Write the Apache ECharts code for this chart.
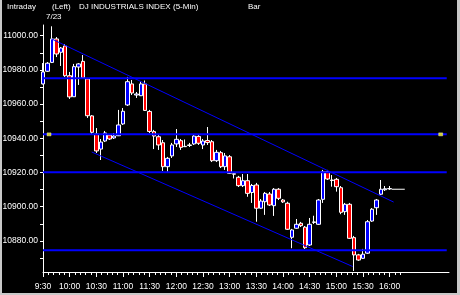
<!DOCTYPE html>
<html><head><meta charset="utf-8">
<script src="https://cdn.jsdelivr.net/npm/echarts@6/dist/echarts.min.js"></script>
<style>html,body{margin:0;padding:0;background:#000;}#c{width:460px;height:295px;}</style>
</head><body><div id="c"></div>
<script>
// ---- data ----
const barTimes = ['9:30','9:35','9:40','9:45','9:50','9:55','10:00','10:05','10:10','10:15','10:20','10:25',
'10:30','10:35','10:40','10:45','10:50','10:55','11:00','11:05','11:10','11:15','11:20','11:25',
'11:30','11:35','11:40','11:45','11:50','11:55','12:00','12:05','12:10','12:15','12:20','12:25',
'12:30','12:35','12:40','12:45','12:50','12:55','13:00','13:05','13:10','13:15','13:20','13:25',
'13:30','13:35','13:40','13:45','13:50','13:55','14:00','14:05','14:10','14:15','14:20','14:25',
'14:30','14:35','14:40','14:45','14:50','14:55','15:00','15:05','15:10','15:15','15:20','15:25',
'15:30','15:35','15:40','15:45','15:50','15:55','16:00'];
const openP = [10971.8,10979.2,10984.4,10998.1,10990.3,10994.0,10976.6,10964.3,10981.7,10985.0,10974.7,10953.1,
10942.5,10933.7,10938.4,10941.9,10940.2,10941.5,10948.4,10959.5,10971.8,10965.3,10964.9,10971.8,
10955.7,10943.9,10940.9,10937.4,10923.4,10929.7,10936.7,10938.6,10935.1,10935.8,10936.7,10941.1,
10936.1,10938.7,10938.0,10926.9,10931.6,10923.4,10929.2,10919.3,10917.2,10912.3,10915.2,10908.3,
10912.7,10899.1,10902.9,10907.4,10900.6,10910.2,10903.9,10902.0,10882.1,10887.4,10890.3,10888.0,
10877.6,10890.8,10889.7,10904.3,10920.5,10915.6,10916.0,10911.1,10897.1,10901.4,10881.9,10871.8,
10869.8,10872.8,10891.6,10899.4,10907.3,10909.9,10910.4];
const closeP = [10978.8,10983.9,10998.1,10989.3,10992.8,10976.6,10964.2,10981.9,10983.5,10975.3,10953.2,10943.5,
10932.6,10937.8,10943.1,10939.6,10941.3,10947.8,10955.8,10973.1,10966.5,10965.9,10971.8,10956.3,
10944.0,10941.3,10936.1,10923.4,10928.3,10936.1,10939.4,10934.7,10935.3,10936.1,10941.3,10937.1,
10938.4,10937.5,10926.9,10931.8,10923.4,10929.7,10919.5,10919.0,10912.3,10915.2,10907.8,10912.4,
10899.1,10903.3,10907.8,10901.0,10910.2,10904.9,10902.8,10886.8,10886.4,10889.7,10888.9,10876.0,
10889.7,10891.1,10903.9,10920.5,10916.2,10915.3,10911.7,10896.7,10901.4,10881.5,10871.8,10868.8,
10872.2,10891.2,10898.5,10903.9,10910.2,10910.5,10910.6];
const highP = [10984.0,10984.6,11005.5,10999.2,10993.4,10995.1,10978.8,10983.5,10984.0,10988.7,10975.3,10953.6,
10946.0,10939.6,10944.3,10942.5,10943.1,10956.6,10957.7,10975.9,10974.1,10967.1,10973.2,10973.8,
10956.6,10944.9,10941.9,10939.0,10929.1,10937.3,10945.4,10939.6,10939.3,10937.3,10941.9,10941.9,
10939.6,10946.6,10939.0,10933.2,10932.6,10931.4,10930.2,10920.3,10918.0,10919.1,10919.1,10913.3,
10913.9,10904.5,10908.6,10908.6,10910.9,10910.9,10904.5,10902.9,10887.0,10892.8,10891.1,10888.7,
10893.4,10894.7,10904.5,10921.5,10921.5,10918.5,10916.8,10912.1,10902.2,10902.2,10882.9,10872.4,
10875.3,10892.2,10899.2,10904.5,10915.6,10912.1,10912.1];
const lowP = [10971.5,10978.8,10984.0,10987.5,10982.3,10975.9,10963.0,10964.2,10971.2,10974.7,10951.9,10942.5,
10931.4,10927.3,10937.8,10939.0,10939.6,10941.3,10947.8,10958.9,10965.3,10963.6,10964.7,10956.0,
10943.1,10933.7,10933.2,10920.9,10920.5,10928.5,10934.9,10933.2,10934.9,10934.9,10936.1,10936.1,
10933.7,10936.1,10926.1,10926.1,10922.6,10921.5,10919.1,10916.5,10911.5,10911.5,10905.8,10902.2,
10891.2,10898.7,10895.2,10900.4,10894.6,10903.9,10902.2,10886.4,10875.7,10887.0,10888.1,10875.3,
10877.0,10889.9,10889.3,10902.2,10915.6,10911.7,10908.8,10895.6,10895.2,10881.1,10862.4,10868.3,
10869.4,10872.4,10891.1,10895.2,10906.8,10909.2,10909.8];
const levelPrices = [10975.1, 10942.3, 10920.1, 10874.5];
const upperChannel = [['9:39.8', 10998.1], ['16:04.5', 10902.7]];
const lowerChannel = [['10:24.8', 10932.0], ['15:18.4', 10865.0]];
const markerPoints = [['9:36.8', 10942.3], ['16:57.4', 10942.3]];
const lastPrice = [['16:02.3', 10910.2], ['16:17.0', 10910.2]];
const xTickLabels = ['9:30','10:00','10:30','11:00','11:30','12:00','12:30','13:00','13:30','14:00','14:30','15:00','15:30','16:00'];
const xMinorTicks = ['9:36','9:42','9:48','9:54','10:06','10:12','10:18','10:24','10:36','10:42','10:48','10:54',
'11:06','11:12','11:18','11:24','11:36','11:42','11:48','11:54','12:06','12:12','12:18','12:24',
'12:36','12:42','12:48','12:54','13:06','13:12','13:18','13:24','13:36','13:42','13:48','13:54',
'14:06','14:12','14:18','14:24','14:36','14:42','14:48','14:54','15:06','15:12','15:18','15:24',
'15:36','15:42','15:48','15:54','16:06','16:12'];
const yLabelValues = [10880, 10900, 10920, 10940, 10960, 10980, 11000];
const yTickValues = [10870,10880,10890,10900,10910,10920,10930,10940,10950,10960,10970,10980,10990,11000];
const headerTexts = ['Intraday', '(Left)', 'DJ INDUSTRIALS INDEX', '(5-Min)', 'Bar', '7/23'];

// ---- helpers ----
function toMin(t) { const [h, m] = t.split(':'); return (+h) * 60 + parseFloat(m) - 570; }
function fmtMin(v) { const t = Math.round(v) + 570; const h = Math.floor(t / 60), m = t % 60; return h + ':' + (m < 10 ? '0' : '') + m; }

const candleData = barTimes.map((t, i) => [toMin(t), openP[i], closeP[i], lowP[i], highP[i]]);
const X_MAX = 456.75, Y_MIN = 10861.8, Y_MAX = 11006.26;
const FONT = '"Liberation Sans", Arial, sans-serif';

const series = [{
  type: 'candlestick', data: candleData, encode: { x: 0, y: [1, 2, 3, 4] },
  barWidth: 4, z: 2,
  itemStyle: { color: '#0000ff', color0: '#ff0000', borderColor: '#ffffff', borderColor0: '#ffffff', borderColorDoji: '#ffffff', borderWidth: 1 }
}];
levelPrices.forEach(p => series.push({
  type: 'line', data: [[0, p], [454.2, p]], symbol: 'none', silent: true, z: 3,
  lineStyle: { color: '#0000ff', width: 2 }
}));
[upperChannel, lowerChannel].forEach(ch => series.push({
  type: 'line', data: ch.map(d => [toMin(d[0]), d[1]]), symbol: 'none', silent: true, z: 3,
  lineStyle: { color: '#0000ff', width: 1 }
}));
series.push({
  type: 'line', data: lastPrice.map(d => [toMin(d[0]), d[1]]), symbol: 'none', silent: true, z: 4,
  lineStyle: { color: '#ffffff', width: 1 }
});
series.push({
  type: 'scatter', data: markerPoints.map(d => [toMin(d[0]), d[1]]), symbol: 'rect', symbolSize: [4, 3], z: 5,
  itemStyle: { color: '#ffff00', borderColor: '#ffffdd', borderWidth: 0.5 }
});

const hdrPos = [[7, 6.5], [52, 6.5], [79, 6.5], [173, 6.5], [248, 6.5], [46, 16.5]];
const graphic = headerTexts.map((t, i) => ({
  type: 'text', x: hdrPos[i][0], y: hdrPos[i][1],
  style: { text: t, fill: '#ffffff', font: '8px ' + FONT, verticalAlign: 'middle', align: 'left' }
}));
graphic.push({ type: 'rect', shape: { x: 0, y: 0, width: 2, height: 295 }, style: { fill: '#c8c8c8' } });
graphic.push({ type: 'rect', shape: { x: 457, y: 0, width: 3, height: 295 }, style: { fill: '#c8c8c8' } });
graphic.push({ type: 'rect', shape: { x: 0, y: 293, width: 460, height: 2 }, style: { fill: '#c8c8c8' } });

const chart = echarts.init(document.getElementById('c'), null, { renderer: 'canvas' });
chart.setOption({
  animation: false,
  backgroundColor: '#000000',
  grid: { left: 43, right: 11, top: 25, bottom: 23, containLabel: false, outerBoundsMode: 'none' },
  xAxis: [{
    type: 'value', min: 0, max: X_MAX, position: 'bottom',
    axisLine: { show: true, onZero: false, lineStyle: { color: '#ffffff', width: 1 } },
    axisTick: { show: true, length: 5, customValues: xTickLabels.map(toMin), lineStyle: { color: '#ffffff' } },
    axisLabel: { show: true, customValues: xTickLabels.map(toMin), formatter: fmtMin, color: '#ffffff', fontSize: 8.5, fontFamily: FONT, margin: 10 },
    splitLine: { show: false }
  }, {
    type: 'value', min: 0, max: X_MAX, position: 'bottom', gridIndex: 0,
    axisLine: { show: false, onZero: false },
    axisTick: { show: true, length: 3, customValues: xMinorTicks.map(toMin), lineStyle: { color: '#ffffff' } },
    axisLabel: { show: false }, splitLine: { show: false }
  }],
  yAxis: {
    type: 'value', min: Y_MIN, max: Y_MAX, position: 'left',
    axisLine: { show: true, onZero: false, lineStyle: { color: '#ffffff', width: 1 } },
    axisTick: { show: true, length: 3, customValues: yTickValues, lineStyle: { color: '#ffffff' } },
    axisLabel: { show: true, customValues: yLabelValues, formatter: v => v.toFixed(2), color: '#ffffff', fontSize: 8.5, fontFamily: FONT, margin: 5 },
    splitLine: { show: false }
  },
  series: series,
  graphic: graphic
});
</script>
</body></html>
